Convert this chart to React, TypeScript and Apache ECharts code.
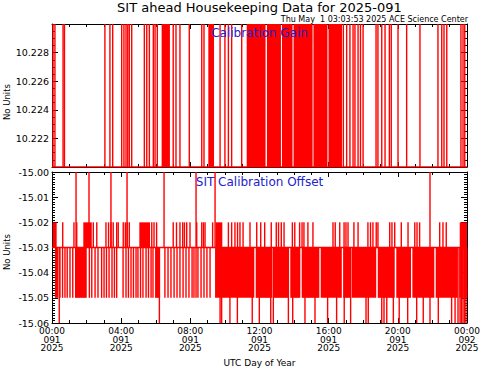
import React, { useEffect, useRef } from 'react';
import * as echarts from 'echarts';

// ---------- data (hours of day 091, 2025) ----------
const xTickLabels = [
  '00:00\n091\n2025', '04:00\n091\n2025', '08:00\n091\n2025', '12:00\n091\n2025',
  '16:00\n091\n2025', '20:00\n091\n2025', '00:00\n092\n2025',
];

// Calibration gain: two levels, toggling
const gainLow = 10.22;
const gainHigh = 10.23;
const gainToggles = [
  0.06, 0.17, 0.64, 0.72, 3.06, 3.35, 3.51, 4.03, 4.16, 4.28, 4.38, 4.47, 4.61,
  5.34, 5.48, 5.63, 5.86, 5.96, 6.09, 7.01, 7.17, 7.40, 7.94, 8.66, 8.79, 9.72,
  10.0, 10.2, 10.39, 10.97, 16.85, 17.04, 17.23, 17.41, 17.52, 17.70, 17.84, 17.99,
  18.74, 18.85, 19.07, 19.26, 19.51, 19.62, 20.01, 20.51, 21.28, 22.32, 22.54,
  22.67, 22.83, 23.65, 23.77, 23.87,
];
// periods of very rapid toggling [start, end]
const gainBursts = [
  [6.34, 6.82], [9.04, 9.37], [11.26, 12.35], [12.43, 13.24], [13.30, 13.91],
  [13.97, 15.07], [15.12, 15.93], [15.99, 16.77],
];

// Calibration offset levels
const offsetBase = -15.03;
const offsetUpLevel = -15.02;
const offsetDownLevel = -15.05;
const offsetTopLevel = -15.0;
const offsetBottomLevel = -15.06;

const offsetUpTimes = [
  0.62, 1.27, 1.43, 2.39, 2.59, 3.12, 3.27, 3.41, 3.54, 3.74, 3.83, 4.12, 4.24,
  4.35, 4.47, 5.77, 5.90, 6.05, 7.01, 7.20, 7.40, 7.56, 7.66, 7.79, 7.98, 8.37,
  8.66, 8.76, 8.85, 9.29, 10.20, 10.39, 10.58, 10.73, 10.87, 11.05, 11.45, 11.84,
  12.07, 12.30, 12.68, 12.97, 13.10, 13.26, 13.42, 13.90, 14.04, 14.32, 14.46,
  14.57, 14.80, 15.09, 16.25, 16.38, 16.64, 16.89, 17.00, 17.12, 17.46, 17.70,
  18.27, 18.42, 18.56, 18.75, 18.85, 19.53, 19.66, 19.82, 20.20, 20.59, 20.98,
  21.11, 21.26, 22.42, 22.61, 22.80,
];
const offsetUpBursts = [
  [0.04, 0.27], [1.81, 2.30], [5.05, 5.67], [9.46, 9.85], [23.58, 24.0],
];
const offsetDownTimes = [
  0.46, 0.61, 0.75, 0.88, 1.04, 1.20, 2.16, 2.30, 2.49, 2.66, 2.87, 3.01, 3.15,
  3.30, 3.47, 3.61, 3.74, 4.11, 4.28, 4.42, 4.57, 4.71, 4.86, 4.97, 5.12, 5.26,
  5.44, 5.58, 5.73, 5.84, 6.53, 6.71, 6.88, 7.06, 7.23, 7.40, 7.58, 7.75, 7.92,
  8.10, 8.21, 8.33, 8.44, 8.62, 8.79, 8.96, 9.14, 23.74, 23.83, 23.92, 23.99,
];
const offsetDownBursts = [
  [0.17, 0.36], [1.33, 2.01], [5.96, 6.25], [9.43, 11.70], [11.78, 12.74],
  [12.82, 13.69], [13.78, 14.36], [14.44, 15.46], [15.54, 16.76], [16.84, 17.25],
  [17.33, 18.75], [18.84, 19.82], [19.91, 20.76], [20.84, 22.11], [22.19, 23.47],
  [23.55, 23.65],
];
const offsetTopSpikes = [1.39, 2.14, 3.41, 4.34, 6.48, 8.33, 9.43, 21.86];
const offsetBottomSpikes = [
  0.42, 6.21, 9.72, 9.81, 10.29, 10.72, 11.58, 11.99, 12.65, 12.80, 13.67, 13.92,
  14.63, 15.21, 15.94, 16.46, 16.90, 17.27, 18.16, 18.29, 19.07, 19.20, 19.36,
  19.74, 20.08, 20.57, 21.09, 21.47, 21.86, 22.34, 23.11, 23.31, 23.48, 23.60,
  23.68, 23.77, 23.86, 23.94,
];

// ---------- styling ----------
const RED = '#ff0000';
const BLUE = '#2222cc';
const FONT = 'DejaVu Sans';
const LW = 1.4;

function renderVLine(_params: any, api: any) {
  const t = api.value(0);
  const a = api.coord([t, api.value(1)]);
  const b = api.coord([t, api.value(2)]);
  return {
    type: 'line',
    shape: { x1: a[0], y1: a[1], x2: b[0], y2: b[1] },
    style: { stroke: RED, lineWidth: LW },
  };
}
function renderBand(_params: any, api: any) {
  const p0 = api.coord([api.value(0), api.value(3)]);
  const p1 = api.coord([api.value(1), api.value(2)]);
  return {
    type: 'rect',
    shape: { x: p0[0], y: p0[1], width: p1[0] - p0[0], height: p1[1] - p0[1] },
    style: { fill: RED },
  };
}

function xAxisDef(gridIndex: number, position: 'top' | 'bottom', labels: boolean) {
  return {
    type: 'value', gridIndex, position, min: 0, max: 24, interval: 4,
    axisLine: { show: true, onZero: false, lineStyle: { color: '#000', width: 1 } },
    axisTick: { show: true, inside: true, length: 5, lineStyle: { color: '#000' } },
    minorTick: { show: true, splitNumber: 4, length: 3, lineStyle: { color: '#000' } },
    splitLine: { show: false },
    axisLabel: {
      show: labels, margin: 4, color: '#000', fontFamily: FONT, fontSize: 9,
      lineHeight: 8.5, showMinLabel: true, showMaxLabel: true,
      formatter: (v: number) => xTickLabels[Math.round(v / 4)] ?? '',
    },
  };
}
function yAxisDef(gridIndex: number, position: 'left' | 'right', labels: boolean,
  min: number, max: number, interval: number, minor: number, digits: number, hideEnds: boolean) {
  return {
    type: 'value', gridIndex, position, min, max, interval,
    axisLine: { show: true, onZero: false, lineStyle: { color: '#000', width: 1 } },
    axisTick: { show: true, inside: true, length: 6, lineStyle: { color: '#000' } },
    minorTick: { show: true, splitNumber: minor, length: 3, lineStyle: { color: '#000' } },
    splitLine: { show: false },
    axisLabel: {
      show: labels, margin: 3, color: '#000', fontFamily: FONT, fontSize: 9.5,
      showMinLabel: !hideEnds, showMaxLabel: !hideEnds,
      formatter: (v: number) => v.toFixed(digits),
    },
  };
}

export default function App() {
  const ref = useRef<HTMLDivElement>(null);
  useEffect(() => {
    if (!ref.current) return;
    const chart = echarts.init(ref.current, undefined, { renderer: 'svg' });
    const option: any = {
      animation: false,
      backgroundColor: '#ffffff',
      grid: [
        { left: 52, top: 24, width: 415, height: 143, outerBoundsMode: 'none' },
        { left: 52, top: 172, width: 415, height: 151, outerBoundsMode: 'none' },
      ],
      xAxis: [
        xAxisDef(0, 'bottom', false),
        xAxisDef(0, 'top', false),
        xAxisDef(1, 'bottom', true),
        xAxisDef(1, 'top', false),
      ],
      yAxis: [
        yAxisDef(0, 'left', true, gainLow, gainHigh, 0.002, 4, 3, true),
        yAxisDef(0, 'right', false, gainLow, gainHigh, 0.002, 4, 3, true),
        yAxisDef(1, 'left', true, offsetBottomLevel, offsetTopLevel, 0.01, 10, 2, false),
        yAxisDef(1, 'right', false, offsetBottomLevel, offsetTopLevel, 0.01, 10, 2, false),
      ],
      series: [
        {
          type: 'line', xAxisIndex: 0, yAxisIndex: 0, symbol: 'none',
          data: [[0, gainLow], [24, gainLow]], lineStyle: { color: RED, width: LW },
        },
        {
          type: 'custom', xAxisIndex: 0, yAxisIndex: 0, renderItem: renderVLine,
          encode: { x: 0, y: [1, 2] },
          data: gainToggles.map((t) => [t, gainLow, gainHigh]),
        },
        {
          type: 'custom', xAxisIndex: 0, yAxisIndex: 0, renderItem: renderBand,
          encode: { x: [0, 1], y: [2, 3] },
          data: gainBursts.map(([a, b]) => [a, b, gainLow, gainHigh]),
        },
        {
          type: 'line', xAxisIndex: 2, yAxisIndex: 2, symbol: 'none',
          data: [[0, offsetBase], [24, offsetBase]], lineStyle: { color: RED, width: LW },
        },
        {
          type: 'custom', xAxisIndex: 2, yAxisIndex: 2, renderItem: renderBand,
          encode: { x: [0, 1], y: [2, 3] },
          data: [
            ...offsetUpBursts.map(([a, b]) => [a, b, offsetBase, offsetUpLevel]),
            ...offsetDownBursts.map(([a, b]) => [a, b, offsetDownLevel, offsetBase]),
          ],
        },
        {
          type: 'custom', xAxisIndex: 2, yAxisIndex: 2, renderItem: renderVLine,
          encode: { x: 0, y: [1, 2] },
          data: [
            ...offsetUpTimes.map((t) => [t, offsetBase, offsetUpLevel]),
            ...offsetDownTimes.map((t) => [t, offsetDownLevel, offsetBase]),
            ...offsetTopSpikes.map((t) => [t, offsetBase, offsetTopLevel]),
            ...offsetBottomSpikes.map((t) => [t, offsetBottomLevel, offsetBase]),
          ],
        },
      ],
      graphic: [
        {
          type: 'text', x: 259.5, y: 7,
          style: { text: 'SIT ahead Housekeeping Data for 2025-091', fill: '#000', font: `13px "${FONT}"`, align: 'center', verticalAlign: 'middle' },
        },
        {
          type: 'text', x: 468, y: 19.5,
          style: { text: 'Thu May  1 03:03:53 2025 ACE Science Center', fill: '#000', font: `8px "${FONT}"`, align: 'right', verticalAlign: 'middle' },
        },
        {
          type: 'text', x: 259.5, y: 33, z: 10,
          style: { text: 'Calibration Gain', fill: BLUE, font: `12px "${FONT}"`, align: 'center', verticalAlign: 'middle' },
        },
        {
          type: 'text', x: 259.5, y: 182, z: 10,
          style: { text: 'SIT Calibration Offset', fill: BLUE, font: `12px "${FONT}"`, align: 'center', verticalAlign: 'middle' },
        },
        {
          type: 'text', x: 7, y: 102, rotation: Math.PI / 2,
          style: { text: 'No Units', fill: '#000', font: `8.5px "${FONT}"`, align: 'center', verticalAlign: 'middle' },
        },
        {
          type: 'text', x: 7, y: 252, rotation: Math.PI / 2,
          style: { text: 'No Units', fill: '#000', font: `8.5px "${FONT}"`, align: 'center', verticalAlign: 'middle' },
        },
        {
          type: 'text', x: 259.5, y: 363,
          style: { text: 'UTC Day of Year', fill: '#000', font: `9px "${FONT}"`, align: 'center', verticalAlign: 'middle' },
        },
      ],
    };
    chart.setOption(option);
    return () => chart.dispose();
  }, []);
  return (
    <div
      ref={ref}
      style={{ position: 'fixed', left: 0, top: 0, width: 481, height: 370, background: '#fff' }}
    />
  );
}
